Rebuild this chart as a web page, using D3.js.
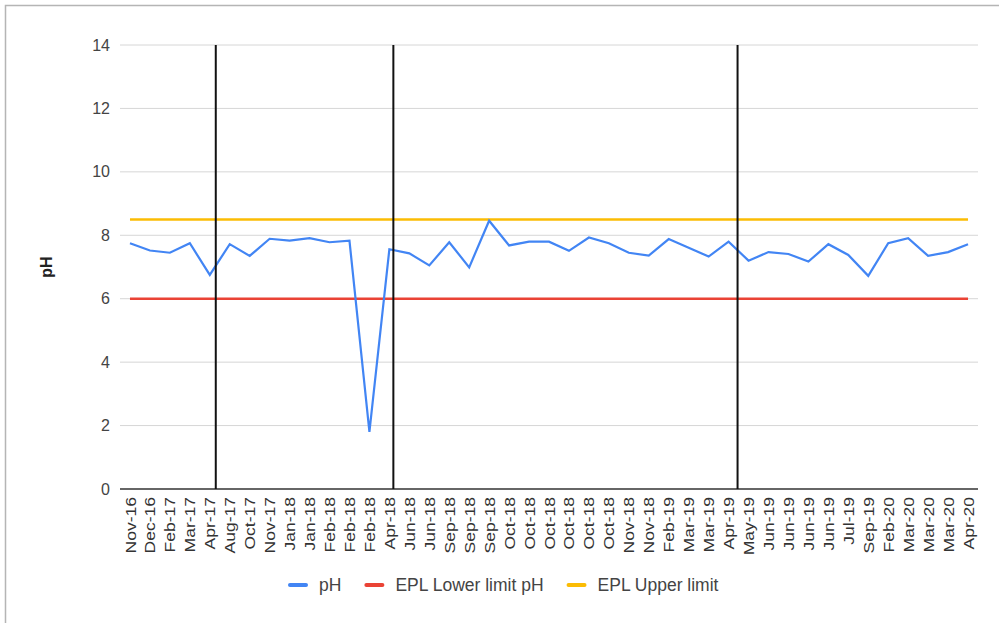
<!DOCTYPE html>
<html>
<head>
<meta charset="utf-8">
<script src="https://cdn.jsdelivr.net/npm/d3@7"></script>
<style>
  html, body { margin: 0; padding: 0; background: #fff; }
  svg { display: block; font-family: Arial, "Liberation Sans", sans-serif; }
</style>
</head>
<body>
<svg id="chart" width="999" height="623"></svg>
<script>
// ---- Data ----
const categories = [
  "Nov-16","Dec-16","Feb-17","Mar-17","Apr-17","Aug-17","Oct-17","Nov-17",
  "Jan-18","Jan-18","Feb-18","Feb-18","Feb-18","Apr-18","Jun-18","Jun-18",
  "Sep-18","Sep-18","Sep-18","Oct-18","Oct-18","Oct-18","Oct-18","Oct-18",
  "Oct-18","Nov-18","Nov-18","Feb-19","Mar-19","Mar-19","Apr-19","May-19",
  "Jun-19","Jun-19","Jun-19","Jun-19","Jul-19","Sep-19","Feb-20","Mar-20",
  "Mar-20","Mar-20","Apr-20"
];
const phValues = [
  7.75, 7.52, 7.45, 7.75, 6.75, 7.72, 7.35, 7.89,
  7.83, 7.91, 7.78, 7.83, 1.8, 7.56, 7.43, 7.05,
  7.78, 6.99, 8.46, 7.68, 7.8, 7.8, 7.51, 7.93,
  7.75, 7.45, 7.36, 7.88, 7.61, 7.33, 7.8, 7.2,
  7.47, 7.41, 7.17, 7.72, 7.38, 6.72, 7.75, 7.91,
  7.35, 7.47, 7.72
];
const lowerLimit = 6;
const upperLimit = 8.5;
const yTicks = [0, 2, 4, 6, 8, 10, 12, 14];
// vertical marker lines, in category-index units
const markerPositions = [4.3, 13.2, 30.45];
const seriesNames = ["pH", "EPL Lower limit pH", "EPL Upper limit"];
const seriesColors = ["#4285F4", "#EA4335", "#FBBC04"];

// ---- Layout ----
const svg = d3.select("#chart");
const W = 999, H = 623;
const plot = { left: 120, right: 978, top: 45, bottom: 489 };

svg.append("rect").attr("width", W).attr("height", H).attr("fill", "#fff");
// outer frame
svg.append("rect").attr("x", 5.5).attr("y", 5.5).attr("width", W + 10).attr("height", H + 10)
  .attr("fill", "none").attr("stroke", "#b5b5b5").attr("stroke-width", 1.5);

const idx = categories.map((d, i) => i);
const x = d3.scalePoint().domain(idx).range([plot.left, plot.right]).padding(0.5);
const y = d3.scaleLinear().domain([0, 14]).range([plot.bottom, plot.top]);
const step = x.step();
const xIdx = v => x(0) + v * step;

// gridlines
svg.append("g").selectAll("line").data(yTicks.filter(t => t !== 0)).join("line")
  .attr("x1", plot.left).attr("x2", plot.right)
  .attr("y1", d => y(d)).attr("y2", d => y(d))
  .attr("stroke", "#d6d6d6").attr("stroke-width", 1);

// y axis labels
const yAxis = d3.axisLeft(y).tickValues(yTicks).tickSize(0).tickPadding(10);
const yg = svg.append("g").attr("transform", `translate(${plot.left},0)`).call(yAxis);
yg.select(".domain").remove();
yg.selectAll("text").attr("font-size", 16).attr("fill", "#444").attr("font-family", "Arial, 'Liberation Sans', sans-serif");

// y title
svg.append("text")
  .attr("transform", `translate(52,${(plot.top + plot.bottom) / 2}) rotate(-90)`)
  .attr("text-anchor", "middle").attr("font-size", 16).attr("font-weight", "bold")
  .attr("fill", "#222").text("pH");

// limit lines
svg.append("line")
  .attr("x1", x(0)).attr("x2", x(idx.length - 1))
  .attr("y1", y(lowerLimit)).attr("y2", y(lowerLimit))
  .attr("stroke", seriesColors[1]).attr("stroke-width", 2.5);
svg.append("line")
  .attr("x1", x(0)).attr("x2", x(idx.length - 1))
  .attr("y1", y(upperLimit)).attr("y2", y(upperLimit))
  .attr("stroke", seriesColors[2]).attr("stroke-width", 2.5);

// pH line
const line = d3.line().x((d, i) => x(i)).y(d => y(d));
svg.append("path").datum(phValues)
  .attr("d", line).attr("fill", "none")
  .attr("stroke", seriesColors[0]).attr("stroke-width", 2.2)
  .attr("stroke-linejoin", "miter");

// baseline
svg.append("line").attr("x1", plot.left).attr("x2", plot.right)
  .attr("y1", y(0)).attr("y2", y(0)).attr("stroke", "#333").attr("stroke-width", 1.3);

// vertical marker lines
svg.append("g").selectAll("line").data(markerPositions).join("line")
  .attr("x1", d => xIdx(d)).attr("x2", d => xIdx(d))
  .attr("y1", y(14)).attr("y2", y(0))
  .attr("stroke", "#111").attr("stroke-width", 2);

// x axis labels
const xAxis = d3.axisBottom(x).tickSize(0).tickFormat(i => categories[i]);
const xg = svg.append("g").attr("transform", `translate(0,${plot.bottom})`).call(xAxis);
xg.select(".domain").remove();
xg.selectAll("text")
  .attr("font-size", 17.5).attr("fill", "#333")
  .attr("font-family", "Arial, 'Liberation Sans', sans-serif")
  .attr("text-anchor", "end")
  .attr("transform", "rotate(-90) scale(1,0.82)")
  .attr("x", -8).attr("y", 0).attr("dy", "0.35em");

// legend
const legendItems = seriesNames.map((n, i) => ({ name: n, color: seriesColors[i] }));
const lg = svg.append("g").attr("transform", "translate(0,585)");
let cx = 290;
legendItems.forEach((d, i) => {
  const g = lg.append("g").attr("transform", `translate(${cx},0)`);
  g.append("line").attr("x1", 0).attr("x2", 16).attr("y1", 0).attr("y2", 0)
    .attr("stroke", d.color).attr("stroke-width", 4).attr("stroke-linecap", "round");
  const t = g.append("text").attr("x", 29).attr("y", 0).attr("dy", "0.35em")
    .attr("font-size", 17.5).attr("fill", "#444").text(d.name);
  const w = t.node().getComputedTextLength();
  cx += 29 + w + 25;
});
</script>
</body>
</html>
